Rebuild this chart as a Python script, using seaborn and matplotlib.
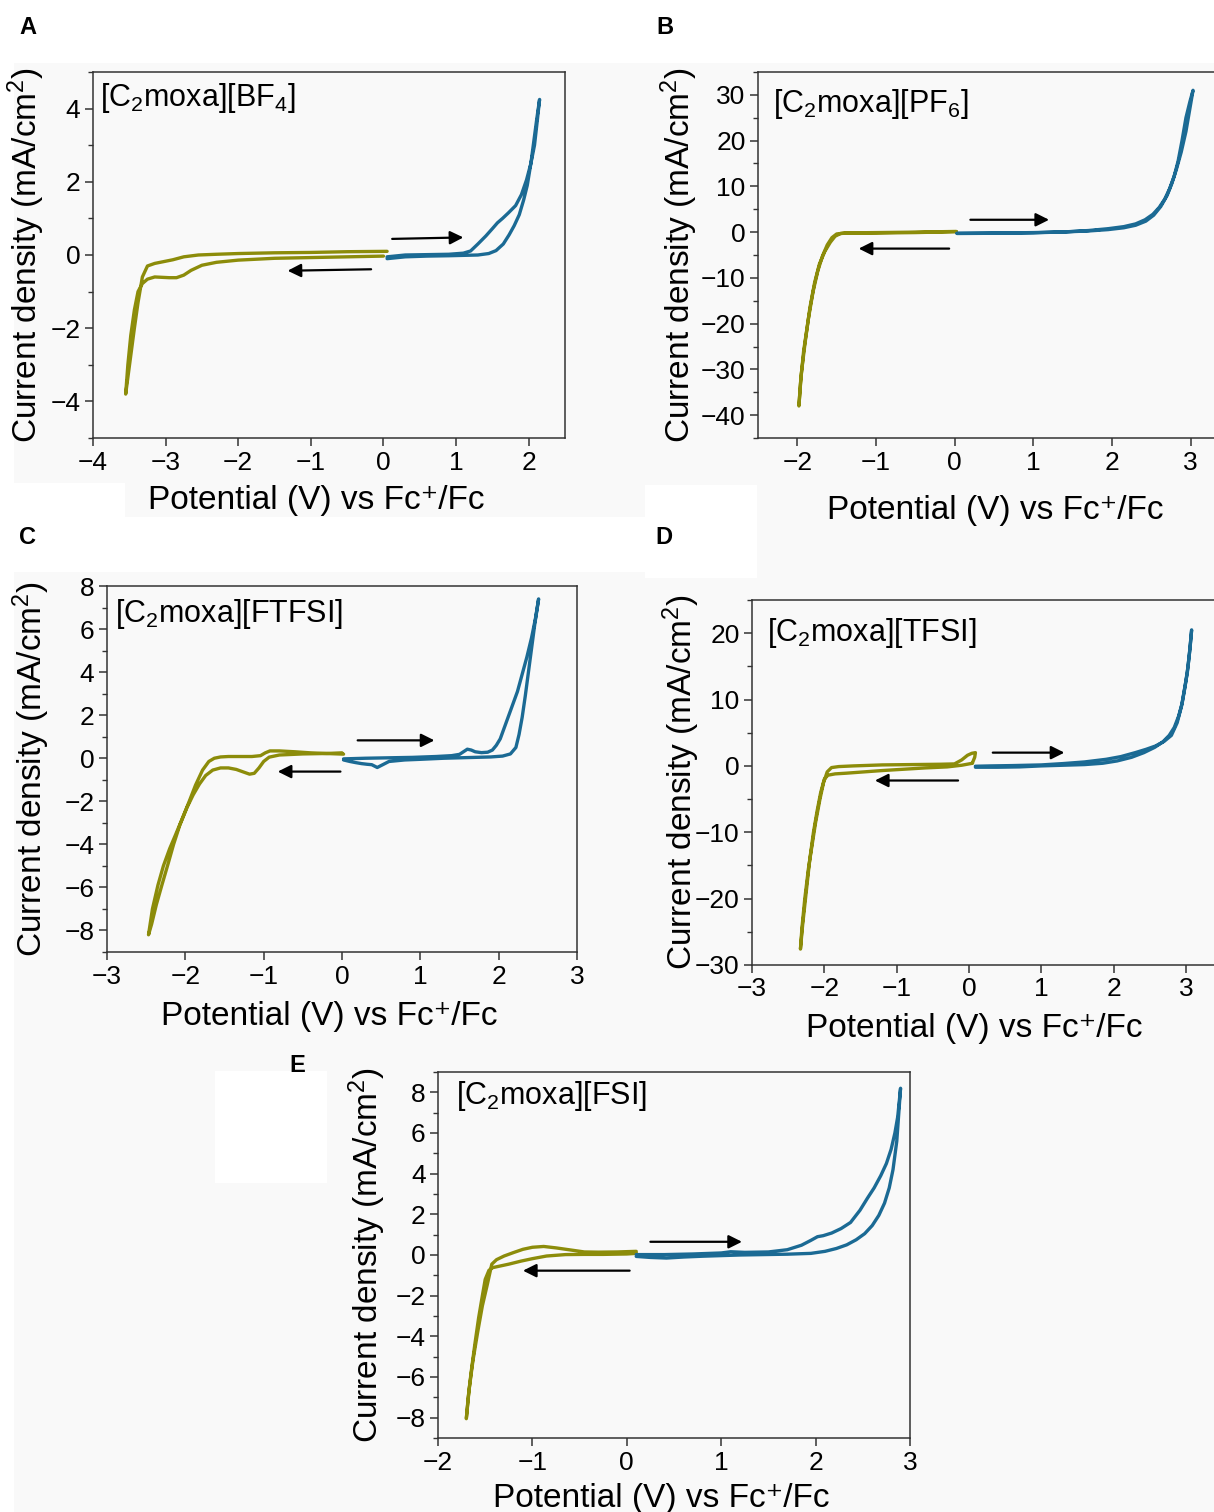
import numpy as np
import seaborn as sns
import matplotlib
matplotlib.use("Agg")
from matplotlib import pyplot as plt
from matplotlib.patches import Rectangle
from matplotlib.ticker import MultipleLocator

# DATA (mA/cm2 vs V)
# panel A  [C2moxa][BF4]
a_neg_x = [0.05, -0.5, -1.0, -1.5, -2.0, -2.3, -2.55, -2.75, -2.9, -3.05, -3.15, -3.25, -3.32, -3.38, -3.43, -3.47,
           -3.51, -3.55, -3.52, -3.48, -3.43, -3.38, -3.32, -3.25, -3.15, -3.05, -2.95, -2.85, -2.75, -2.65, -2.5,
           -2.3, -2.0, -1.5, -1.0, -0.5, 0.0]
a_neg_y = [0.1, 0.09, 0.07, 0.06, 0.04, 0.02, 0.0, -0.05, -0.13, -0.19, -0.23, -0.3, -0.6, -1.3, -2.0, -2.6,
           -3.2, -3.8, -3.0, -2.2, -1.5, -1.0, -0.78, -0.66, -0.6, -0.61, -0.62, -0.62, -0.55, -0.42, -0.28,
           -0.2, -0.14, -0.09, -0.07, -0.05, -0.03]
a_pos_x = [0.05, 0.3, 0.6, 0.9, 1.1, 1.3, 1.45, 1.55, 1.65, 1.73, 1.8, 1.87, 1.93, 1.98, 2.03, 2.07, 2.11, 2.15,
           2.12, 2.08, 2.03, 1.97, 1.9, 1.82, 1.72, 1.64, 1.57, 1.5, 1.41, 1.3, 1.2, 1.1, 0.9, 0.6, 0.3, 0.05]
a_pos_y = [-0.1, -0.05, -0.03, -0.02, -0.01, 0.0, 0.04, 0.12, 0.3, 0.55, 0.8, 1.1, 1.5, 1.9, 2.5, 3.1, 3.7, 4.25,
           3.7, 3.0, 2.5, 2.05, 1.65, 1.35, 1.15, 1.0, 0.88, 0.72, 0.52, 0.3, 0.11, 0.05, 0.02, 0.01, 0.0, -0.05]

# panel B  [C2moxa][PF6]
b_neg_x = [0.02, -0.5, -1.0, -1.3, -1.45, -1.52, -1.58, -1.65, -1.72, -1.78, -1.84, -1.9, -1.95, -1.98, -1.96,
           -1.92, -1.86, -1.8, -1.74, -1.68, -1.62, -1.56, -1.5, -1.4, -1.0, -0.5, 0.02]
b_neg_y = [0.15, 0.0, -0.1, -0.15, -0.3, -0.9, -2.2, -4.2, -7.0, -11.0, -16.5, -24.0, -31.0, -38.0, -33.0,
           -26.0, -19.0, -13.0, -8.5, -5.2, -2.8, -1.2, -0.4, -0.2, -0.2, -0.1, 0.1]
b_pos_x = [0.03, 0.5, 1.0, 1.4, 1.7, 1.95, 2.15, 2.3, 2.42, 2.52, 2.6, 2.67, 2.73, 2.79, 2.84, 2.89, 2.94, 2.99,
           3.03, 2.99, 2.94, 2.88, 2.82, 2.76, 2.7, 2.62, 2.53, 2.43, 2.3, 2.15, 1.95, 1.7, 1.4, 1.0, 0.5, 0.03]
b_pos_y = [-0.3, -0.25, -0.15, 0.05, 0.35, 0.75, 1.2, 1.8, 2.7, 3.9, 5.4, 7.2, 9.4, 12.2, 15.5, 20.0, 25.0, 28.5,
           31.0, 27.0, 22.0, 17.5, 13.8, 10.6, 8.0, 5.6, 3.7, 2.4, 1.5, 0.95, 0.55, 0.25, 0.05, -0.1, -0.2, -0.25]

# panel C  [C2moxa][FTFSI]
c_neg_x = [0.02, -0.2, -0.4, -0.6, -0.8, -0.92, -0.98, -1.04, -1.15, -1.3, -1.45, -1.55, -1.63, -1.7, -1.78,
           -1.87, -1.95, -2.05, -2.13, -2.2, -2.28, -2.35, -2.42, -2.47, -2.43, -2.37, -2.3, -2.22, -2.15, -2.07,
           -1.98, -1.9, -1.82, -1.74, -1.65, -1.55, -1.45, -1.35, -1.25, -1.18, -1.12, -1.06, -1.0, -0.93, -0.8,
           -0.5, -0.2, 0.0]
c_neg_y = [0.19, 0.22, 0.25, 0.3, 0.34, 0.34, 0.25, 0.12, 0.08, 0.08, 0.08, 0.06, 0.0, -0.15, -0.55,
           -1.25, -2.0, -2.9, -3.6, -4.2, -5.0, -5.9, -7.0, -8.2, -7.7, -6.8, -5.9, -4.9, -4.0, -3.1,
           -2.3, -1.7, -1.2, -0.8, -0.55, -0.45, -0.45, -0.52, -0.65, -0.74, -0.7, -0.45, -0.15, 0.05, 0.15,
           0.2, 0.22, 0.25]
c_pos_x = [0.02, 0.1, 0.17, 0.25, 0.32, 0.38, 0.45, 0.52, 0.6, 0.8, 1.0, 1.3, 1.6, 1.9, 2.05, 2.15, 2.22, 2.26,
           2.3, 2.34, 2.38, 2.42, 2.46, 2.51, 2.47, 2.42, 2.36, 2.3, 2.24, 2.18, 2.12, 2.07, 2.02, 1.97, 1.92,
           1.86, 1.78, 1.7, 1.65, 1.6, 1.55, 1.5, 1.4, 1.2, 0.9, 0.6, 0.3, 0.02]
c_pos_y = [-0.08, -0.15, -0.2, -0.25, -0.28, -0.3, -0.43, -0.3, -0.15, -0.08, -0.05, 0.0, 0.03, 0.06, 0.1, 0.2,
           0.5, 1.1, 1.9, 2.9, 4.0, 5.1, 6.2, 7.4, 6.5, 5.6, 4.7, 3.9, 3.1, 2.5, 1.9, 1.4, 0.9, 0.6, 0.38,
           0.28, 0.26, 0.3, 0.38, 0.42, 0.3, 0.18, 0.12, 0.08, 0.04, 0.02, 0.0, -0.03]

# panel D  [C2moxa][TFSI]
d_neg_x = [0.05, -0.1, -0.3, -0.6, -0.9, -1.2, -1.45, -1.7, -1.85, -1.95, -2.0, -2.05, -2.1, -2.15, -2.2, -2.25,
           -2.3, -2.33, -2.31, -2.27, -2.22, -2.17, -2.12, -2.06, -2.01, -1.96, -1.9, -1.8, -1.6, -1.2, -0.8,
           -0.4, -0.2, -0.1, -0.02, 0.04, 0.09, 0.08, 0.05]
d_neg_y = [0.4, 0.1, -0.15, -0.3, -0.5, -0.7, -0.9, -1.1, -1.2, -1.4, -2.0, -4.0, -6.8, -10.0, -14.0, -19.0,
           -24.0, -27.6, -24.5, -20.0, -15.5, -12.0, -8.5, -5.0, -2.5, -0.9, -0.25, -0.1, 0.0, 0.15, 0.2,
           0.25, 0.3, 0.9, 1.6, 1.9, 2.0, 1.3, 0.5]
d_pos_x = [0.09, 0.4, 0.7, 1.0, 1.3, 1.6, 1.85, 2.05, 2.25, 2.42, 2.57, 2.68, 2.77, 2.84, 2.9, 2.95, 2.99, 3.03,
           3.06, 3.08, 3.05, 3.02, 2.98, 2.94, 2.88, 2.8, 2.7, 2.58, 2.45, 2.3, 2.1, 1.9, 1.6, 1.3, 1.0, 0.6,
           0.3, 0.09]
d_pos_y = [-0.2, -0.2, -0.15, 0.0, 0.1, 0.2, 0.4, 0.75, 1.3, 2.0, 2.8, 3.6, 4.6, 5.8, 7.5, 9.5, 12.0, 15.0,
           18.0, 20.5, 17.0, 14.0, 11.5, 9.0, 6.5, 4.6, 3.7, 3.0, 2.5, 2.0, 1.4, 1.0, 0.6, 0.35, 0.15, 0.05,
           0.0, -0.05]

# panel E  [C2moxa][FSI]
e_neg_x = [0.1, -0.1, -0.3, -0.45, -0.6, -0.75, -0.88, -1.0, -1.1, -1.2, -1.3, -1.38, -1.43, -1.48, -1.53, -1.58,
           -1.63, -1.67, -1.7, -1.68, -1.65, -1.61, -1.57, -1.53, -1.5, -1.46, -1.42, -1.35, -1.25, -1.12, -1.0,
           -0.85, -0.65, -0.45, -0.25, 0.0, 0.1]
e_neg_y = [0.18, 0.15, 0.14, 0.15, 0.25, 0.35, 0.42, 0.38, 0.28, 0.12, -0.05, -0.23, -0.45, -1.5, -2.5, -3.8,
           -5.2, -6.6, -8.05, -7.0, -5.8, -4.4, -3.1, -2.0, -1.2, -0.75, -0.62, -0.55, -0.45, -0.3, -0.18,
           -0.05, 0.02, 0.03, 0.03, 0.05, 0.08]
e_pos_x = [0.1, 0.25, 0.42, 0.6, 0.8, 1.0, 1.2, 1.45, 1.7, 1.95, 2.1, 2.22, 2.33, 2.43, 2.52, 2.6, 2.67, 2.73,
           2.78, 2.82, 2.86, 2.9, 2.87, 2.84, 2.8, 2.75, 2.69, 2.62, 2.55, 2.47, 2.37, 2.27, 2.17, 2.08, 2.02,
           1.95, 1.85, 1.7, 1.5, 1.25, 1.1, 1.0, 0.7, 0.4, 0.1]
e_pos_y = [-0.07, -0.12, -0.15, -0.1, -0.06, -0.03, 0.0, 0.02, 0.04, 0.08, 0.18, 0.32, 0.5, 0.75, 1.05, 1.45,
           1.95, 2.55, 3.3, 4.2, 5.6, 8.2, 6.8, 6.0, 5.2, 4.5, 3.9, 3.3, 2.8, 2.2, 1.6, 1.3, 1.08, 0.95, 0.9,
           0.72, 0.48, 0.26, 0.15, 0.13, 0.16, 0.1, 0.05, 0.02, 0.02]

names = ["[C$_2$moxa][BF$_4$]", "[C$_2$moxa][PF$_6$]", "[C$_2$moxa][FTFSI]",
         "[C$_2$moxa][TFSI]", "[C$_2$moxa][FSI]"]
letters = ["A", "B", "C", "D", "E"]
xlabel = "Potential (V) vs Fc\u207a/Fc"
ylabel = "Current density (mA/cm$^2$)"

OLIVE = "#8c8c0a"
BLUE = "#1b6a94"
GREY_BG = "#f9f9f9"

sns.set_theme(style="ticks")
plt.rcParams["font.family"] = ["Liberation Sans", "DejaVu Sans"]
plt.rcParams["mathtext.fontset"] = "custom"
plt.rcParams["mathtext.rm"] = "Liberation Sans"
plt.rcParams["mathtext.it"] = "Liberation Sans:italic"
plt.rcParams["mathtext.default"] = "regular"

W, H = 1214, 1512
fig = plt.figure(figsize=(W / 100, H / 100), dpi=100, facecolor=GREY_BG)


def px_rect(x0, y0, x1, y1):
    # rectangle given in image pixels (origin top-left)
    return Rectangle((x0 / W, 1 - y1 / H), (x1 - x0) / W, (y1 - y0) / H,
                     transform=fig.transFigure, facecolor="white", edgecolor="none", zorder=-10)


# white scan patches of the original figure
for r in [(0, 0, W, 63), (0, 0, 14, H), (14, 517, 645, 572), (14, 483, 125, 517),
          (645, 485, 757, 578), (215, 1071, 327, 1183)]:
    fig.patches.append(px_rect(*r))

# panel layout: axes box in pixels (left, top, right, bottom), limits, ticks, label positions
panels = [
    dict(box=(93, 72, 565, 438), xlim=(-4, 2.5), ylim=(-5, 5), ymaj=2, ymin=1,
         data=(a_neg_x, a_neg_y, a_pos_x, a_pos_y), ylab=-0.097, xlab=(0.472, -0.129),
         name=(0.015, 0.975), arr_r=((0.12, 0.44), (1.1, 0.48)), arr_l=((-0.17, -0.39), (-1.32, -0.43)),
         letter=(28, 28)),
    dict(box=(758, 72, 1230, 438), xlim=(-2.5, 3.5), ylim=(-45, 35), ymaj=10, ymin=5,
         data=(b_neg_x, b_neg_y, b_pos_x, b_pos_y), ylab=-0.123, xlab=(0.502, -0.156),
         name=(0.032, 0.96), arr_r=((0.2, 2.7), (1.2, 2.7)), arr_l=((-0.07, -3.6), (-1.22, -3.6)),
         letter=(665, 28)),
    dict(box=(107, 586, 577, 952), xlim=(-3, 3), ylim=(-9, 8), ymaj=2, ymin=1,
         data=(c_neg_x, c_neg_y, c_pos_x, c_pos_y), ylab=-0.117, xlab=(0.472, -0.133),
         name=(0.017, 0.97), arr_r=((0.2, 0.83), (1.18, 0.83)), arr_l=((-0.02, -0.62), (-0.82, -0.62)),
         letter=(28, 538)),
    dict(box=(752, 600, 1222, 965), xlim=(-3, 3.5), ylim=(-30, 25), ymaj=10, ymin=5,
         data=(d_neg_x, d_neg_y, d_pos_x, d_pos_y), ylab=-0.106, xlab=(0.472, -0.131),
         name=(0.032, 0.955), arr_r=((0.33, 2.0), (1.32, 2.0)), arr_l=((-0.15, -2.2), (-1.3, -2.2)),
         letter=(664, 538)),
    dict(box=(438, 1072, 910, 1438), xlim=(-2, 3), ylim=(-9, 9), ymaj=2, ymin=1,
         data=(e_neg_x, e_neg_y, e_pos_x, e_pos_y), ylab=-0.106, xlab=(0.472, -0.122),
         name=(0.038, 0.98), arr_r=((0.25, 0.65), (1.22, 0.65)), arr_l=((0.03, -0.77), (-1.1, -0.77)),
         letter=(297, 1065)),
]

for p, name, letter in zip(panels, names, letters):
    l, t, r, b = p["box"]
    ax = fig.add_axes([l / W, 1 - b / H, (r - l) / W, (b - t) / H])
    ax.set_facecolor("none")
    nx, ny, px, py = p["data"]
    sns.lineplot(x=nx, y=ny, sort=False, estimator=None, color=OLIVE, linewidth=2.4, ax=ax)
    sns.lineplot(x=px, y=py, sort=False, estimator=None, color=BLUE, linewidth=2.4, ax=ax)

    ax.set_xlim(*p["xlim"])
    ax.set_ylim(*p["ylim"])
    ax.xaxis.set_major_locator(MultipleLocator(1))
    ax.yaxis.set_major_locator(MultipleLocator(p["ymaj"]))
    ax.yaxis.set_minor_locator(MultipleLocator(p["ymin"]))
    ax.tick_params(which="major", direction="out", length=6, width=1.1, color="#333333",
                   labelsize=19, pad=3, labelcolor="black")
    ax.tick_params(which="minor", axis="y", direction="out", length=3.5, width=1.0, color="#333333")
    ax.tick_params(top=False, right=False)
    for s in ax.spines.values():
        s.set_visible(True)
        s.set_color("#333333")
        s.set_linewidth(1.1)

    ax.set_ylabel(ylabel, fontsize=24, color="black")
    ax.set_xlabel(xlabel, fontsize=24, color="black")
    ax.yaxis.set_label_coords(p["ylab"], 0.5)
    ax.xaxis.set_label_coords(*p["xlab"])

    ax.text(p["name"][0], p["name"][1], name, transform=ax.transAxes, fontsize=22,
            ha="left", va="top", color="black")

    for (x0, y0), (x1, y1) in [p["arr_r"], p["arr_l"]]:
        ax.annotate("", xy=(x1, y1), xytext=(x0, y0),
                    arrowprops=dict(arrowstyle="-|>", color="black", lw=1.6, mutation_scale=20,
                                    shrinkA=0, shrinkB=0))

    fig.text(p["letter"][0] / W, 1 - p["letter"][1] / H, letter, fontsize=17, fontweight="bold",
             ha="center", va="center", color="black")

fig.savefig("out.png", dpi=100, facecolor=fig.get_facecolor())
